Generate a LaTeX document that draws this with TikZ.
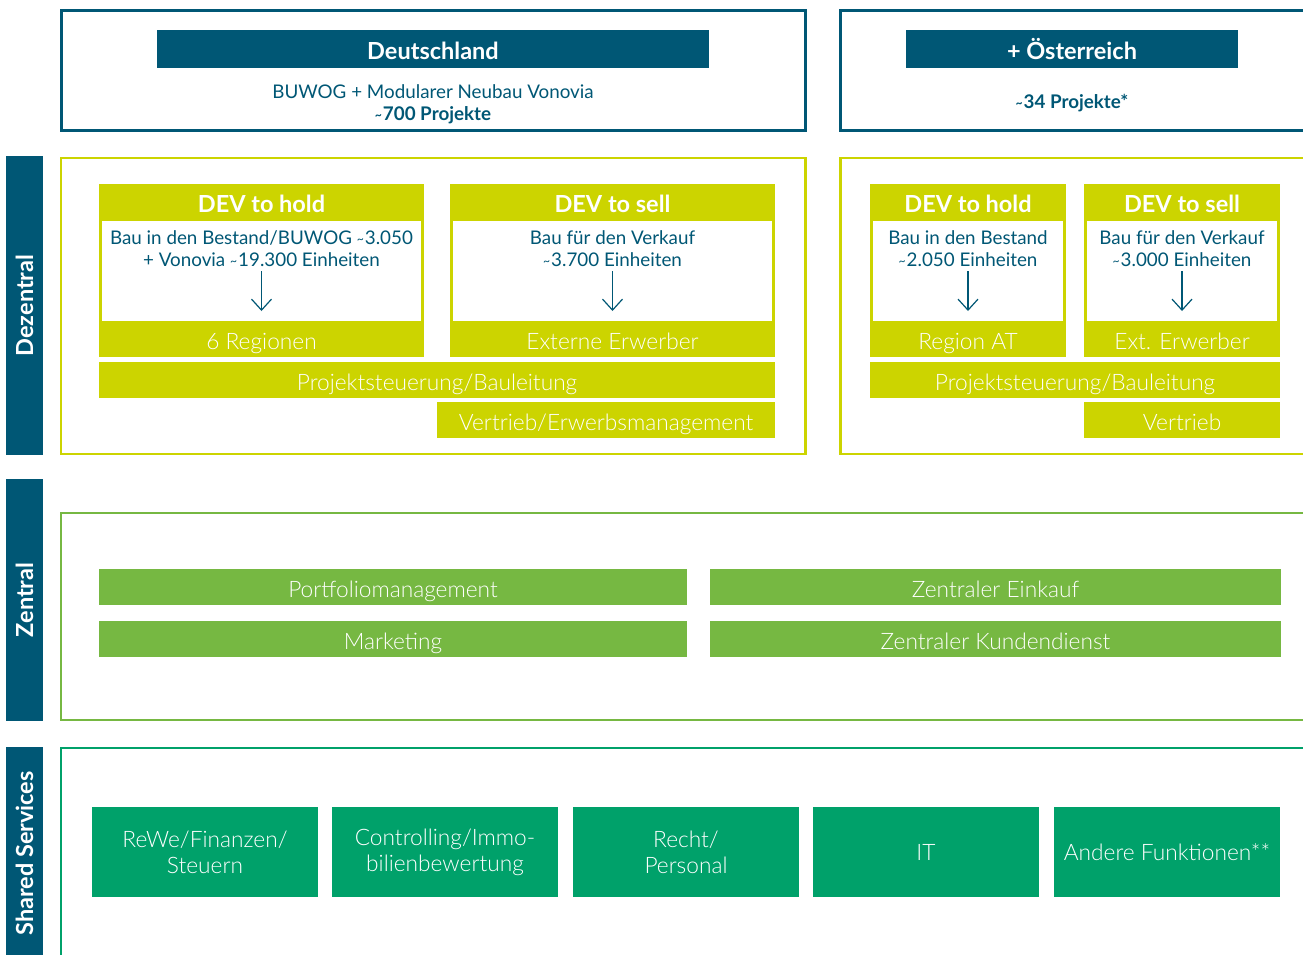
\documentclass[tikz,border=0pt]{standalone}
\usepackage{fontspec}
\setmainfont{Lato}
\newfontfamily\lightfont{Lato Light}
\usetikzlibrary{arrows.meta}

\definecolor{vteal}{RGB}{0,87,117}
\definecolor{vlime}{RGB}{204,212,0}
\definecolor{vgreen}{RGB}{118,184,66}
\definecolor{vemerald}{RGB}{0,161,106}

\newcommand\fsTitle{\fontsize{23.5}{28}\selectfont\bfseries}
\newcommand\fsBody{\fontsize{18.8}{22}\selectfont}
\newcommand\fsBar{\lightfont\fontsize{22.7}{26}\selectfont}
% small "circa" tilde
\newcommand\ca{\raisebox{0.1ex}{\scalebox{0.65}{\textasciitilde}}\kern1pt}

\tikzset{
  box/.style={anchor=north west, inner sep=0pt, outer sep=0pt, text=white, align=center,
    text height=20pt, text depth=0pt},
  tealbar/.style={box, fill=vteal, minimum height=38, font=\fsTitle},
  limebar/.style={box, fill=vlime, minimum height=36, font=\fsBar},
  greenbar/.style={box, fill=vgreen, minimum height=36, font=\fsBar},
  sharedbox/.style={box, fill=vemerald, minimum width=226, minimum height=90, font=\fsBar,
    text height=, text depth=},
  sidelabel/.style={fill=vteal, text=white, rotate=90, inner sep=0pt, minimum height=37, font=\fsTitle},
  info/.style={text=vteal, align=center, inner sep=0pt, font=\fsBody},
  topframe/.style={draw=vteal, line width=3pt},
  limeframe/.style={draw=vlime, line width=2.5pt},
  greenframe/.style={draw=vgreen, line width=2.5pt},
  sharedframe/.style={draw=vemerald, line width=2.5pt},
  downarrow/.style={draw=vteal, line width=1.2pt, -{Straight Barb[length=11pt,width=20pt]}}
}

\begin{document}
\begin{tikzpicture}[x=1pt,y=-1pt]
\useasboundingbox (0,0) rectangle (1303,954);
\clip (0,0) rectangle (1303,954);

% labels on the left
\node[sidelabel, minimum width=299] (dez) at (24.5,305.5) {Dezentral};
\node[sidelabel, minimum width=242] (zen) at (24.5,600) {Zentral};
\node[sidelabel, minimum width=213] (shs) at (24.5,853.5) {Shared Services};

% countries
\draw[topframe] (61,10.5) rectangle (805.5,130.5);
\draw[topframe] (840.5,10.5) rectangle (1320,130.5);
\node[tealbar, minimum width=552] (de) at (157,30) {Deutschland};
\node[tealbar, minimum width=332] (at) at (906,30) {+ Österreich};
\node[info] (deinfo) at (433,104.5) {BUWOG + Modularer Neubau Vonovia\\\textbf{\ca700 Projekte}};
\node[info, font=\fsBody\bfseries] (atinfo) at (1072,103) {\ca34 Projekte*};

% dezentral
\draw[limeframe] (61,158) rectangle (805.5,454);
\draw[limeframe] (840.5,158) rectangle (1320,454);

\foreach \n/\x/\w/\head/\txt/\foot in {
    dehold/99/325/DEV to hold/{Bau in den Bestand/BUWOG \ca3.050\\+ Vonovia \ca19.300 Einheiten}/6 Regionen,
    desell/450/325/DEV to sell/{Bau für den Verkauf\\\ca3.700 Einheiten}/Externe Erwerber,
    athold/870/196/DEV to hold/{Bau in den Bestand\\\ca2.050 Einheiten}/Region AT,
    atsell/1084/196/DEV to sell/{Bau für den Verkauf\\\ca3.000 Einheiten}/Ext. Erwerber}
{
  \node[limebar, minimum width=\w, minimum height=173] (\n) at (\x,184) {};
  \node[box, fill=white, minimum width=\w-6, minimum height=100] (\n-body) at (\x+3,221) {};
  \node[box, anchor=north, minimum width=\w, minimum height=36, font=\fsTitle] (\n-head) at (\n.north) {\head};
  \node[info, anchor=north] (\n-txt) at ([yshift=-9pt]\n-body.north) {\txt};
  \node[box, anchor=south, minimum width=\w, minimum height=36, font=\fsBar] (\n-foot) at (\n.south) {\foot};
  \draw[downarrow, shorten <=5pt, shorten >=10pt] (\n-txt.south) -- (\n-body.south);
}

\node[limebar, minimum width=676] (deps) at (99,362) {Projektsteuerung/Bauleitung};
\node[limebar, minimum width=338] (devt) at (437,402) {Vertrieb/Erwerbsmanagement};
\node[limebar, minimum width=410] (atps) at (870,362) {Projektsteuerung/Bauleitung};
\node[limebar, minimum width=196] (atvt) at (1084,402) {Vertrieb};

% zentral
\draw[greenframe] (61,513) rectangle (1320,720);
\node[greenbar, minimum width=588] (pm) at (99,569) {Portfoliomanagement};
\node[greenbar, minimum width=571] (ek) at (710,569) {Zentraler Einkauf};
\node[greenbar, minimum width=588] (mk) at (99,621) {Marketing};
\node[greenbar, minimum width=571] (kd) at (710,621) {Zentraler Kundendienst};

% shared services
\draw[sharedframe] (61,748) rectangle (1320,1000);
\foreach \n/\x/\txt in {rewe/92/{ReWe/Finanzen/\\Steuern}, ctrl/332/{Controlling/Immo-\\bilienbewertung},
    recht/573/{Recht/\\Personal}, it/813/IT, andere/1054/Andere Funktionen**}
  \node[sharedbox] (\n) at (\x,807) {\txt};
\end{tikzpicture}
\end{document}
